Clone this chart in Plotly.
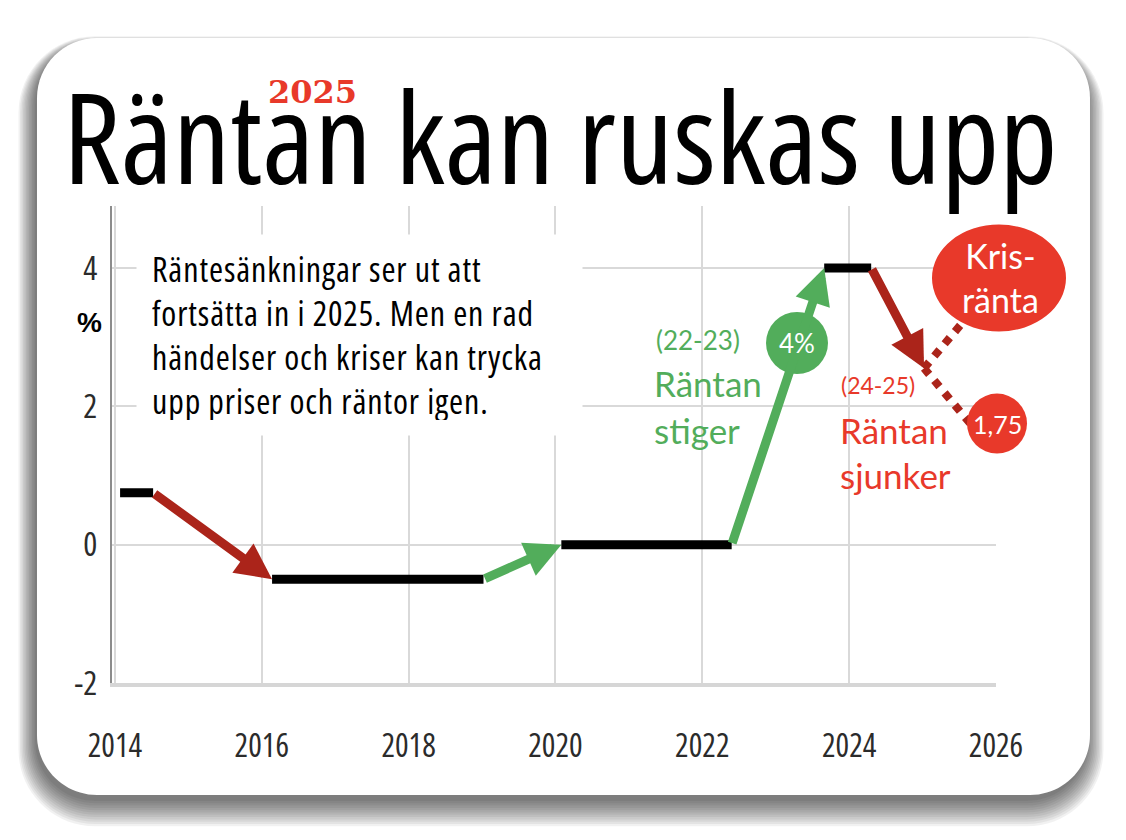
import plotly.graph_objects as go

# policy rate steps (black bars)
seg_start = [2014.07, 2016.14, 2020.08, 2023.66]
seg_end = [2014.52, 2019.02, 2022.40, 2024.30]
seg_rate = [0.75, -0.5, 0.0, 4.0]

# where the last arrow lands, and the two dotted scenarios
fc_year, fc_rate = 2025.02, 2.55
scen_year = [2025.52, 2025.65]
scen_rate = [3.18, 1.75]
base_rate = 1.75
peak_rate = 4

year_ticks = [2014, 2016, 2018, 2020, 2022, 2024, 2026]
rate_ticks = [-2, 0, 2, 4]
rate_tick_text = ["-2", "0", "2", "4"]

W, H = 1126, 840
OFF = 8  # the page body margin shifts the figure by this much
X_RANGE = [2013.96, 2026.0]
Y_RANGE = [-2.0, 4.9]
PLOT_L, PLOT_R, PLOT_B, PLOT_T = 112, 996, 683, 205.7

COND = "Open Sans, sans-serif"
LABEL = "Lato, Open Sans, sans-serif"
DARKRED = "#ab241a"
GREEN = "#52ad5b"
RED = "#e8392a"


def fx(x):
    return (x - OFF) / W


def fy(y):
    return 1 - (y - OFF) / H


def cond(text, extra=""):
    # condensed face of the variable Open Sans, line by line
    return "<br>".join(f"<span style='font-stretch:75%;{extra}'>{t}</span>" for t in text.split("<br>"))


def P(x, y):
    return f"{fx(x):.5f},{fy(y):.5f}"


def ypix(rate):
    return PLOT_B - (rate - Y_RANGE[0]) * (PLOT_B - PLOT_T) / (Y_RANGE[1] - Y_RANGE[0])


def rounded_rect(x0, y0, x1, y1, r):
    k = r * (1 - 0.5523)
    return (f"M{P(x0 + r, y0)} L{P(x1 - r, y0)} "
            f"C{P(x1 - k, y0)} {P(x1, y0 + k)} {P(x1, y0 + r)} "
            f"L{P(x1, y1 - r)} C{P(x1, y1 - k)} {P(x1 - k, y1)} {P(x1 - r, y1)} "
            f"L{P(x0 + r, y1)} C{P(x0 + k, y1)} {P(x0, y1 - k)} {P(x0, y1 - r)} "
            f"L{P(x0, y0 + r)} C{P(x0, y0 + k)} {P(x0 + k, y0)} {P(x0 + r, y0)} Z")


def blob(cx, cy, w, h, color):
    return dict(type="circle", xref="paper", yref="paper", layer="above",
                x0=fx(cx - w / 2), x1=fx(cx + w / 2),
                y0=fy(cy + h / 2), y1=fy(cy - h / 2),
                fillcolor=color, line=dict(width=0))


def label(text, x, y, size, color, family=LABEL, anchor="left"):
    return dict(text=text, x=fx(x), y=fy(y), xref="paper", yref="paper",
                xanchor=anchor, yanchor="middle", showarrow=False,
                font=dict(family=family, size=size, color=color))


shapes = []
# card shadow
for s in range(12):
    e = s * 1.5
    dy = 6 + s * 0.8
    shapes.append(dict(type="path", xref="paper", yref="paper", layer="below",
                       path=rounded_rect(37 - e - 2, 38 - e + dy, 1090 + e - 3, 795 + e + dy, 60 + e),
                       fillcolor="rgba(0,0,0,0.055)", line=dict(width=0)))
shapes.append(dict(type="path", xref="paper", yref="paper", layer="below",
                   path=rounded_rect(37, 38, 1090, 795, 60),
                   fillcolor="white", line=dict(width=0)))

fig = go.Figure()

xs, ys = [], []
for a, b, r in zip(seg_start, seg_end, seg_rate):
    xs += [a, b, None]
    ys += [r, r, None]
fig.add_trace(go.Scatter(x=xs, y=ys, mode="lines", line=dict(color="black", width=9),
                         hoverinfo="skip"))

for yr, rt in zip(scen_year, scen_rate):
    fig.add_trace(go.Scatter(x=[fc_year, yr], y=[fc_rate, rt], mode="lines",
                             line=dict(color=DARKRED, width=8, dash="dot"),
                             hoverinfo="skip"))

annotations = []
# arrows between the steps, green when the rate goes up, red when it goes down
starts = list(zip(seg_end, seg_rate))
ends = list(zip(seg_start[1:], seg_rate[1:])) + [(fc_year, fc_rate)]
for (x0, y0), (x1, y1) in zip(starts, ends):
    annotations.append(dict(x=x1, y=y1, ax=x0, ay=y0, xref="x", yref="y", axref="x", ayref="y",
                            text="", showarrow=True, arrowhead=2, arrowsize=0.8, arrowwidth=9,
                            arrowcolor=GREEN if y1 > y0 else DARKRED, standoff=0))

shapes.append(blob(797, 343, 62, 62, GREEN))
shapes.append(blob(999, 278, 134, 107, RED))
shapes.append(blob(997, ypix(base_rate), 60, 60, RED))

annotations += [
    label(cond("Räntan kan ruskas upp"), 560, 134, 127, "black", COND, "center"),
    label("<b>2025</b>", 312, 92, 32, RED, "DejaVu Serif, serif", "center"),
    dict(text=cond("Räntesänkningar ser ut att<br>fortsätta in i 2025. Men en rad<br>"
                   "händelser och kriser kan trycka<br>upp priser och räntor igen.",
                   "letter-spacing:0.9px"),
         x=fx(136), y=fy(234), xref="paper", yref="paper", xanchor="left", yanchor="top",
         align="left", valign="middle", width=415, height=170, borderpad=15, bgcolor="white",
         showarrow=False, font=dict(family=COND, size=34, color="black")),
    label("<b>%</b>", 89, 322, 28, "black", "Liberation Sans, Arial, sans-serif", "center"),
    label("(22-23)", 654, 340, 26, GREEN),
    label("Räntan", 652, 383, 35, GREEN),
    label("stiger", 652, 430, 35, GREEN),
    label(f"{peak_rate}%", 797, 343, 26, "white", anchor="center"),
    label("(24-25)", 839, 385, 23, RED),
    label("Räntan", 838, 430, 35, RED),
    label("sjunker", 838, 475, 35, RED),
    label("Kris-<br>ränta", 1000, 277, 34, "white", anchor="center"),
    label(f"{base_rate:.2f}".replace(".", ","), 997, ypix(base_rate), 25, "white", anchor="center"),
]

fig.update_layout(
    width=W, height=H,
    margin=dict(l=0, r=0, t=0, b=0, autoexpand=False),
    paper_bgcolor="white", plot_bgcolor="rgba(0,0,0,0)",
    showlegend=False, hovermode=False,
    shapes=shapes, annotations=annotations,
    xaxis=dict(range=X_RANGE, domain=[fx(PLOT_L), fx(PLOT_R)], tickvals=year_ticks,
               ticktext=[cond(str(y)) for y in year_ticks], showgrid=True,
               gridcolor="#d9d9d9", gridwidth=2, zeroline=False, showline=True,
               linecolor="#d6d6d6", linewidth=4, ticks="", ticklabelstandoff=32,
               tickfont=dict(family=COND, size=32, color="#2b2b2b"), fixedrange=True),
    yaxis=dict(range=Y_RANGE, domain=[fy(PLOT_B), fy(PLOT_T)], tickvals=rate_ticks,
               ticktext=[cond(t) for t in rate_tick_text],
               showgrid=True, gridcolor="#d9d9d9", gridwidth=2, zeroline=False,
               showline=True, linecolor="#8c8c8c", linewidth=2, ticks="",
               ticklabelstandoff=6,
               tickfont=dict(family=COND, size=33, color="#2b2b2b"), fixedrange=True),
)

fig.write_html("out.html")
